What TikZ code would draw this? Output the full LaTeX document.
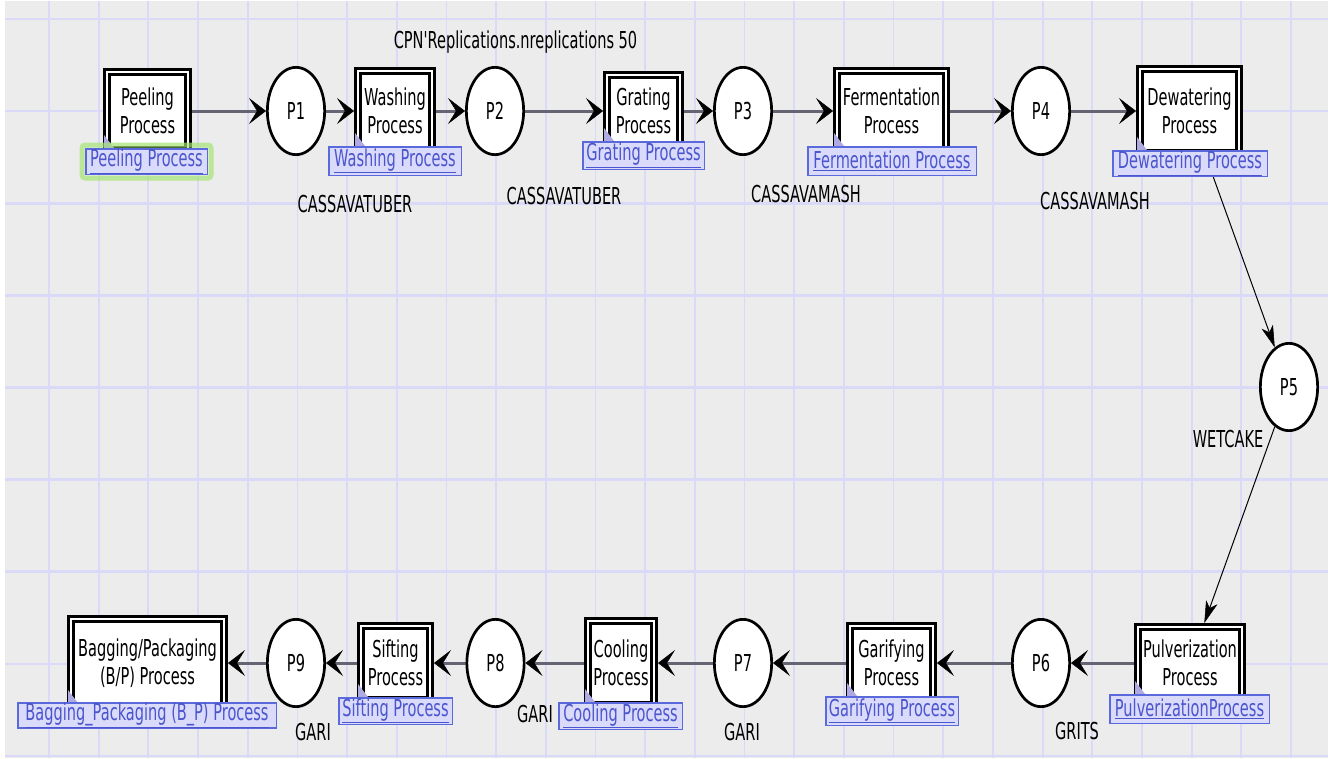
\documentclass[tikz,border=0pt]{standalone}
\usepackage{fontspec}
\newfontfamily\cpnfont[FakeStretch=0.625,Ligatures=TeXOff]{DejaVu Sans}
\usetikzlibrary{arrows.meta,shapes.geometric}
\definecolor{bgc}{RGB}{236,236,236}
\definecolor{gridc}{RGB}{218,218,248}
\definecolor{arcc}{RGB}{100,100,115}
\definecolor{labfill}{RGB}{218,218,250}
\definecolor{labdraw}{RGB}{90,105,220}
\definecolor{labtext}{RGB}{75,85,205}
\definecolor{tabc}{RGB}{175,170,225}
\definecolor{glowc}{RGB}{165,228,115}
\pgfdeclarelayer{bg}
\pgfdeclarelayer{arcs}
\pgfsetlayers{bg,arcs,main}
\tikzset{
  every node/.style={font=\cpnfont\fontsize{23.3pt}{28pt}\selectfont},
  place/.style={ellipse, draw=black, fill=white, line width=2.7pt, minimum width=57.3pt, minimum height=87.3pt, inner sep=0pt},
  trans/.style={rectangle, draw=black, double=white, double distance=2pt, line width=3pt, fill=white, inner sep=0pt, outer sep=4pt, align=center},
  lab/.style={rectangle, draw=labdraw, fill=labfill, line width=1.5pt, inner sep=0pt, text=labtext},
  insc/.style={anchor=base, inner sep=0pt},
  tab/.style={fill=tabc},
  arc/.style={draw=arcc, line width=3pt, -{Stealth[length=17pt,width=26pt,inset=8pt,color=black,line width=0.5pt]}},
  darc/.style={draw=black, line width=1pt, -{Stealth[length=22pt,width=12pt,inset=6pt,line width=0.5pt]}},
}
\begin{document}
\begin{tikzpicture}[x=1pt,y=-1pt]
\useasboundingbox (0,0) rectangle (1328,758);
\begin{pgfonlayer}{bg}
  \fill[white] (0,0) rectangle (1328,758);
  \fill[bgc] (5,1) rectangle (1328,758);
  \foreach \k in {0,...,25} \draw[gridc, line width=1.8pt] ({49+49.68*\k},1) -- ({49+49.68*\k},758);
  \foreach \k in {0,...,8} \draw[gridc, line width=2.6pt] (5,{19+92.13*\k}) -- (1328,{19+92.13*\k});
\end{pgfonlayer}

% transitions
\node[trans, minimum width=81pt, minimum height=78pt] (pee) at (147.5,111) {Peeling\\Process};
\node[trans, minimum width=74pt, minimum height=80pt] (was) at (395,111) {Washing\\Process};
\node[trans, minimum width=73pt, minimum height=72pt] (gra) at (643.5,111) {Grating\\Process};
\node[trans, minimum width=109pt, minimum height=80pt] (fer) at (891.5,111) {Fermentation\\Process};
\node[trans, minimum width=99pt, minimum height=84pt] (dew) at (1189.5,111) {Dewatering\\Process};
\node[trans, minimum width=104pt, minimum height=72pt] (pul) at (1190,663) {Pulverization\\Process};
\node[trans, minimum width=83pt, minimum height=74pt] (gar) at (891.5,663) {Garifying\\Process};
\node[trans, minimum width=66pt, minimum height=84pt] (coo) at (621,663) {Cooling\\Process};
\node[trans, minimum width=69pt, minimum height=74pt] (sif) at (395.5,663) {Sifting\\Process};
\node[trans, minimum width=153pt, minimum height=88pt] (bag) at (147.5,663) {Bagging/Packaging\\(B/P) Process};

% places
\node[place] (p1) at (296,111) {P1};
\node[place] (p2) at (495,111) {P2};
\node[place] (p3) at (743,111) {P3};
\node[place] (p4) at (1041,111) {P4};
\node[place] (p5) at (1289,387) {P5};
\node[place] (p6) at (1041,663) {P6};
\node[place] (p7) at (743,663) {P7};
\node[place] (p8) at (495.5,663) {P8};
\node[place] (p9) at (296,663) {P9};

% tabs
\foreach \x/\y in {103/148,354/146,603/141,833/146,1136/150,1134/694,846/696,584/702,357/697,67/703}
  \fill[tab] (\x+1,\y-13) -- (\x+1,\y) -- (\x+11,\y) -- cycle;

% glow
\draw[glowc, line width=5pt, opacity=0.7, rounded corners=3pt] (82,145) rectangle (211,178);

% labels
\node[lab, minimum width=121.5pt, minimum height=25.5pt] (lpee) at (146.5,161.5) {\underline{Peeling Process}};
\node[lab, minimum width=132.5pt, minimum height=28.5pt] (lwas) at (395,161) {\underline{Washing Process}};
\node[lab, minimum width=121.5pt, minimum height=27.5pt] (lgra) at (643.5,155.5) {\underline{Grating Process}};
\node[lab, minimum width=168.5pt, minimum height=28.5pt] (lfer) at (892,161) {\underline{Fermentation Process}};
\node[lab, minimum width=154.5pt, minimum height=25.5pt] (ldew) at (1190,163.5) {\underline{Dewatering Process}};
\node[lab, minimum width=159.5pt, minimum height=28.5pt] (lpul) at (1189.5,709) {\underline{PulverizationProcess}};
\node[lab, minimum width=132.5pt, minimum height=28.5pt] (lgar) at (892,711) {\underline{Garifying Process}};
\node[lab, minimum width=123.5pt, minimum height=26.5pt] (lcoo) at (620.5,716) {\underline{Cooling Process}};
\node[lab, minimum width=113.5pt, minimum height=26.5pt] (lsif) at (395.5,711) {\underline{Sifting Process}};
\node[lab, minimum width=258.5pt, minimum height=25pt] (lbag) at (147,715.5) {\underline{Bagging\_Packaging (B\_P) Process}};

% inscriptions
\node[insc] (decl) at (515.5,48) {CPN'Replications.nreplications 50};
\node[insc] (i1) at (355,212) {CASSAVATUBER};
\node[insc] (i2) at (564,204) {CASSAVATUBER};
\node[insc] (i3) at (806,202) {CASSAVAMASH};
\node[insc] (i4) at (1095,209) {CASSAVAMASH};
\node[insc] (i5) at (1228,447) {WETCAKE};
\node[insc] (i6) at (1077,739) {GRITS};
\node[insc] (i7) at (742,740) {GARI};
\node[insc] (i8) at (535,722) {GARI};
\node[insc] (i9) at (313,740) {GARI};

% arcs
\begin{pgfonlayer}{arcs}
  \draw[arc] (pee) -- (p1);
  \draw[arc] (p1) -- (was);
  \draw[arc] (was) -- (p2);
  \draw[arc] (p2) -- (gra);
  \draw[arc] (gra) -- (p3);
  \draw[arc] (p3) -- (fer);
  \draw[arc] (fer) -- (p4);
  \draw[arc] (p4) -- (dew);
  \draw[darc] (dew) -- (p5);
  \draw[darc] (p5) -- (pul);
  \draw[arc] (pul) -- (p6);
  \draw[arc] (p6) -- (gar);
  \draw[arc] (gar) -- (p7);
  \draw[arc] (p7) -- (coo);
  \draw[arc] (coo) -- (p8);
  \draw[arc] (p8) -- (sif);
  \draw[arc] (sif) -- (p9);
  \draw[arc] (p9) -- (bag);
\end{pgfonlayer}
\end{tikzpicture}
\end{document}
